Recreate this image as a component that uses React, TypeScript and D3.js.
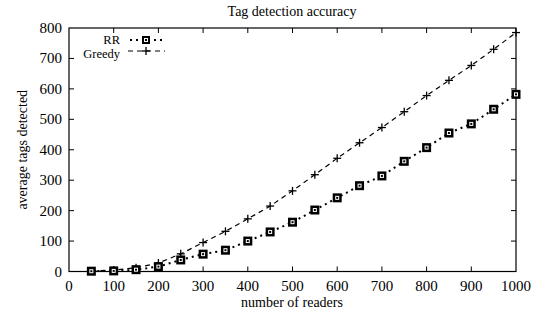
import React from "react";
import * as d3 from "d3";

const readers = [50,100,150,200,250,300,350,400,450,500,550,600,650,700,750,800,850,900,950,1000];
const rrValues = [1,2,6,16,38,57,70,100,130,162,202,242,282,314,362,407,455,485,533,582];
const greedyValues = [2,5,12,28,58,95,132,173,215,265,318,372,423,473,525,578,628,677,730,785];
const xTicks = [0,100,200,300,400,500,600,700,800,900,1000];
const yTicks = [0,100,200,300,400,500,600,700,800];
const title = "Tag detection accuracy";
const xLabel = "number of readers";
const yLabel = "average tags detected";
const seriesNames = ["RR", "Greedy"];

const W = 544, H = 316;
const L = 69, R = 516, T = 28, B = 271.5;
const font = "Liberation Serif";

export default function App() {
  const x = d3.scaleLinear().domain([0, 1000]).range([L, R]);
  const y = d3.scaleLinear().domain([0, 800]).range([B, T]);
  const line = d3.line<[number, number]>().x(d => x(d[0])).y(d => y(d[1]));
  const rrPts: [number, number][] = readers.map((r, i) => [r, rrValues[i]]);
  const grPts: [number, number][] = readers.map((r, i) => [r, greedyValues[i]]);
  const tl = 5;

  const square = (cx: number, cy: number, key: any, s = 9) => (
    <g key={key}>
      <rect x={cx - s / 2} y={cy - s / 2} width={s} height={s} fill="#000" />
      <rect x={cx - 1.5} y={cy - 1.5} width={3} height={3} fill="none" stroke="#fff" strokeWidth={1} />
    </g>
  );
  const plus = (cx: number, cy: number, key: any) => (
    <g key={key} stroke="#000" strokeWidth={1.3}>
      <line x1={cx - 4} x2={cx + 4} y1={cy} y2={cy} />
      <line x1={cx} x2={cx} y1={cy - 4} y2={cy + 4} />
    </g>
  );

  return (
    <svg width={W} height={H} style={{ position: "absolute", left: 0, top: 0, background: "#fff" }}>
      <rect x={0} y={0} width={W} height={H} fill="#fff" />
      <text x={292} y={16} textAnchor="middle" fontFamily={font} fontSize={14}>{title}</text>
      {xTicks.slice(1, -1).map(t => (
        <g key={"xt" + t} stroke="#000" strokeWidth={1}>
          <line x1={x(t)} x2={x(t)} y1={B} y2={B - tl} />
          <line x1={x(t)} x2={x(t)} y1={T} y2={T + tl} />
        </g>
      ))}
      {yTicks.slice(1, -1).map(t => (
        <g key={"yt" + t} stroke="#000" strokeWidth={1}>
          <line x1={L} x2={L + tl} y1={y(t)} y2={y(t)} />
          <line x1={R} x2={R - tl} y1={y(t)} y2={y(t)} />
        </g>
      ))}
      <rect x={L} y={T} width={R - L} height={B - T} fill="none" stroke="#000" strokeWidth={1.2} />
      {xTicks.map(t => (
        <text key={"xl" + t} x={x(t)} y={B + 19} textAnchor="middle" fontFamily={font} fontSize={15}>{t}</text>
      ))}
      {yTicks.map(t => (
        <text key={"yl" + t} x={L - 7} y={y(t) + 5} textAnchor="end" fontFamily={font} fontSize={15}>{t}</text>
      ))}
      <text x={292} y={307} textAnchor="middle" fontFamily={font} fontSize={14}>{xLabel}</text>
      <text transform={`translate(27,${(T + B) / 2}) rotate(-90)`} textAnchor="middle" fontFamily={font} fontSize={14}>{yLabel}</text>
      <path d={line(grPts) || ""} fill="none" stroke="#000" strokeWidth={1.2} strokeDasharray="5,4" />
      <path d={line(rrPts) || ""} fill="none" stroke="#000" strokeWidth={2} strokeDasharray="2,4" />
      {grPts.map((p, i) => plus(x(p[0]), y(p[1]), "g" + i))}
      {rrPts.map((p, i) => square(x(p[0]), y(p[1]), "r" + i))}
      <text x={120} y={44} textAnchor="end" fontFamily={font} fontSize={12.5}>{seriesNames[0]}</text>
      <line x1={130} x2={162} y1={40} y2={40} stroke="#000" strokeWidth={2} strokeDasharray="2,4" />
      {square(146, 40, "lr", 8)}
      <text x={120} y={58} textAnchor="end" fontFamily={font} fontSize={12.5}>{seriesNames[1]}</text>
      <line x1={128} x2={165} y1={51} y2={51} stroke="#000" strokeWidth={1.2} strokeDasharray="5,4" />
      {plus(146, 51, "lg")}
    </svg>
  );
}
